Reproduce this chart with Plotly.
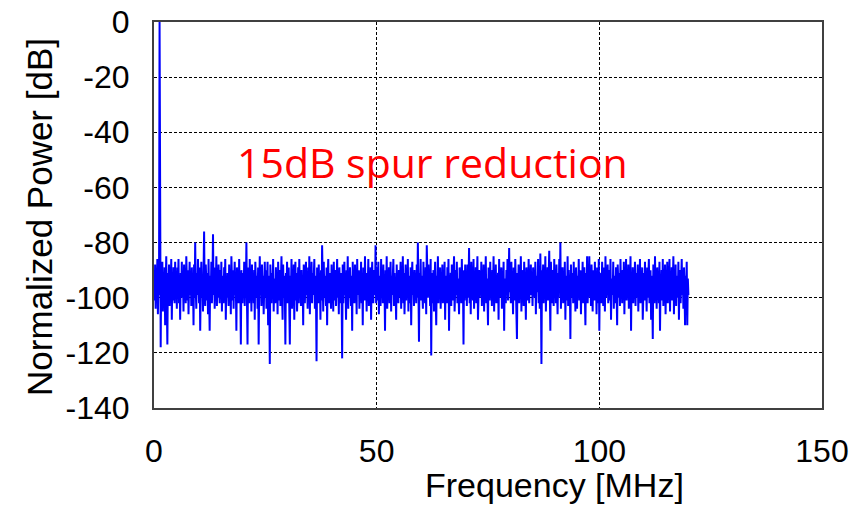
import plotly.graph_objects as go

# Spectrum samples (dB), one row per 5 MHz, 0.125 MHz apart
power_db_rows = [
    [-94,-101,-88,-104,-92,-97,-86,-106,-93,-99, 0,-102,-118,-90,-98,-87,-105,-92,-100,-89, -110,-95,-85,-102,-117,-91,-99,-88,-103,-93, -96,-86,-108,-92,-101,-89,-97,-102,-87,-99],
    [-92,-104,-89,-98,-86,-102,-94,-108,-91,-97, -87,-100,-93,-105,-88,-99,-92,-102,-85,-96, -101,-90,-106,-95,-87,-99,-92,-103,-89,-98, -94,-110,-88,-100,-80,-97,-104,-91,-99,-86],
    [-93,-102,-89,-112,-96,-87,-100,-92,-105,-90, -76,-98,-103,-88,-95,-101,-91,-106,-86,-97, -112,-92,-99,-87,-102,-94,-77,-99,-89,-104, -92,-96,-85,-103,-93,-100,-88,-98,-102,-90],
    [-99,-87,-105,-92,-95,-102,-89,-98,-86,-108, -94,-100,-91,-97,-103,-88,-99,-92,-106,-85, -96,-101,-90,-104,-93,-87,-99,-95,-112,-89, -98,-92,-102,-86,-100,-94,-117,-90,-97,-102],
    [-91,-99,-87,-103,-93,-97,-80,-101,-117,-89, -96,-102,-86,-99,-92,-105,-88,-98,-94,-102, -90,-108,-87,-95,-100,-92,-104,-89,-117,-97, -85,-99,-93,-103,-88,-98,-92,-106,-95,-87],
    [-100,-90,-104,-94,-87,-110,-92,-98,-124,-88, -95,-102,-91,-99,-86,-105,-93,-97,-102,-89, -99,-92,-106,-87,-96,-101,-90,-103,-94,-85, -98,-108,-88,-100,-92,-97,-117,-91,-102,-87],
    [-95,-102,-89,-99,-117,-92,-97,-86,-104,-93, -99,-88,-108,-94,-87,-101,-91,-105,-96,-89, -102,-86,-98,-92,-103,-90,-100,-94,-110,-88, -97,-102,-92,-87,-99,-95,-104,-89,-101,-85],
    [-106,-92,-97,-87,-102,-91,-99,-94,-86,-104, -92,-99,-123,-89,-96,-102,-88,-98,-93,-108, -90,-101,-81,-95,-105,-87,-100,-92,-97,-103, -89,-110,-93,-86,-99,-102,-91,-96,-104,-88],
    [-98,-92,-105,-87,-101,-94,-90,-103,-97,-86, -100,-92,-106,-89,-96,-102,-91,-99,-122,-88, -102,-93,-87,-99,-95,-108,-90,-98,-85,-104, -92,-100,-89,-97,-103,-92,-112,-87,-99,-94],
    [-102,-88,-96,-92,-106,-86,-99,-95,-90,-104, -93,-98,-87,-102,-92,-110,-89,-97,-101,-85, -99,-94,-105,-91,-96,-86,-103,-92,-100,-89, -108,-93,-87,-98,-102,-90,-95,-99,-81,-102],
    [-89,-101,-94,-87,-106,-92,-97,-103,-86,-99, -92,-102,-88,-100,-95,-112,-90,-98,-85,-104, -93,-99,-89,-102,-96,-87,-105,-92,-99,-94, -86,-103,-91,-101,-97,-108,-88,-98,-93,-102],
    [-90,-100,-95,-87,-104,-92,-98,-85,-102,-91, -106,-96,-88,-101,-93,-99,-86,-105,-92,-97, -102,-89,-110,-94,-87,-99,-92,-103,-90,-98, -95,-102,-88,-100,-80,-96,-116,-91,-99,-86],
    [-101,-92,-97,-104,-87,-99,-93,-102,-89,-106, -81,-95,-100,-88,-98,-92,-103,-86,-121,-91, -96,-102,-90,-105,-94,-87,-99,-110,-92,-97, -85,-102,-92,-98,-89,-104,-95,-100,-88,-102],
    [-93,-99,-87,-108,-92,-96,-102,-89,-100,-86, -112,-94,-98,-91,-103,-88,-97,-101,-92,-85, -105,-95,-90,-99,-87,-102,-93,-98,-106,-89, -96,-92,-102,-86,-99,-94,-117,-90,-101,-88],
    [-98,-92,-103,-88,-100,-95,-82,-102,-91,-106, -87,-97,-93,-101,-86,-104,-92,-99,-89,-102, -94,-85,-108,-96,-90,-100,-92,-98,-87,-103, -95,-99,-88,-105,-92,-97,-85,-102,-93,-99],
    [-110,-89,-96,-101,-87,-99,-93,-103,-90,-97, -85,-105,-92,-99,-88,-102,-95,-98,-91,-108, -86,-100,-94,-96,-89,-104,-92,-99,-87,-112, -93,-97,-102,-90,-99,-86,-101,-95,-82,-98],
    [-92,-102,-87,-99,-94,-106,-89,-97,-101,-86, -95,-104,-115,-91,-98,-88,-102,-92,-99,-85, -105,-93,-96,-90,-103,-87,-100,-94,-108,-89, -97,-92,-101,-86,-102,-95,-98,-88,-99,-92],
    [-103,-89,-97,-93,-100,-87,-106,-92,-98,-95, -86,-102,-91,-104,-84,-96,-124,-90,-99,-88, -102,-92,-97,-85,-105,-94,-99,-89,-101,-92, -83,-98,-112,-87,-95,-102,-90,-97,-103,-86],
    [-99,-93,-102,-88,-96,-106,-91,-100,-86,-98, -80,-104,-92,-97,-89,-102,-94,-99,-87,-108, -92,-95,-101,-85,-103,-90,-98,-93,-115,-88, -100,-96,-91,-102,-87,-99,-94,-105,-89,-97],
    [-104,-92,-98,-86,-101,-95,-90,-106,-93,-97, -87,-102,-99,-89,-96,-110,-91,-99,-85,-102, -94,-100,-85,-98,-92,-103,-88,-97,-105,-90, -95,-101,-87,-99,-93,-106,-89,-96,-102,-86],
    [-112,-91,-97,-94,-102,-87,-99,-103,-89,-95, -105,-85,-100,-92,-98,-88,-102,-96,-90,-101, -86,-108,-93,-97,-99,-87,-104,-92,-95,-102, -89,-98,-110,-88,-94,-100,-91,-103,-86,-99],
    [-96,-102,-90,-100,-87,-106,-93,-97,-86,-101, -95,-99,-88,-104,-92,-98,-85,-112,-92,-99, -89,-102,-94,-97,-87,-103,-91,-100,-95,-88, -105,-93,-98,-86,-102,-92,-99,-89,-108,-96],
    [-91,-101,-87,-98,-95,-105,-89,-100,-93,-86, -102,-97,-90,-108,-92,-99,-115,-88,-96,-102, -85,-99,-94,-104,-89,-98,-92,-102,-87,-112, -95,-97,-90,-101,-86,-103,-93,-99,-88,-106],
    [-94,-99,-87,-102,-92,-97,-86,-105,-93,-99, -89,-101,-95,-85,-106,-91,-98,-88,-103,-92, -96,-100,-87,-108,-94,-90,-102,-97,-86,-99, -92,-104,-89,-98,-110,-92,-95,-87,-110,-93],
    [-99],
]
freq_step_mhz = 0.125

x_tick_values = [0, 50, 100, 150]
x_tick_labels = ["0", "50", "100", "150"]
y_tick_values = [0, -20, -40, -60, -80, -100, -120, -140]
y_tick_labels = ["0", "-20", "-40", "-60", "-80", "-100", "-120", "-140"]
annotation_text = "15dB spur reduction"
x_title = "Frequency [MHz]"
y_title = "Normalized Power [dB]"

power_db = [v for row in power_db_rows for v in row]
frequency_mhz = [i * freq_step_mhz for i in range(len(power_db))]

fig = go.Figure()
fig.add_trace(go.Scatter(
    x=frequency_mhz, y=power_db, mode="lines",
    line=dict(color="#0000FF", width=2),
    showlegend=False, hoverinfo="skip",
))

font_family = "Liberation Sans, Arial, sans-serif"
axis_font = dict(family=font_family, size=32, color="#000000")

fig.update_xaxes(
    range=[0, 150], tickvals=x_tick_values, ticktext=x_tick_labels, tickfont=axis_font,
    showgrid=True, gridcolor="#000000", gridwidth=1, griddash="3px,2px",
    showline=True, linecolor="#404040", linewidth=2, mirror=True,
    zeroline=False, ticks="", ticklabelstandoff=14, automargin=False,
    ticklabeloverflow="allow",
)
fig.update_yaxes(
    range=[-140, 0], tickvals=y_tick_values, ticktext=y_tick_labels, tickfont=axis_font,
    showgrid=True, gridcolor="#000000", gridwidth=1, griddash="3px,2px",
    showline=True, linecolor="#404040", linewidth=2, mirror=True,
    zeroline=False, ticks="", ticklabelstandoff=16, automargin=False,
    ticklabeloverflow="allow",
)

fig.add_annotation(
    x=18.2, y=-50.8, xref="x", yref="y", text=annotation_text, showarrow=False,
    xanchor="left", yanchor="middle",
    font=dict(family="Open Sans, Noto Sans, sans-serif", size=41, color="#FF0000"),
)
fig.add_annotation(
    x=90, y=-0.2, xref="x", yref="paper", text=x_title, showarrow=False,
    xanchor="center", yanchor="middle",
    font=dict(family=font_family, size=34, color="#000000"),
)
fig.add_annotation(
    x=-0.1707, y=0.495, xref="paper", yref="paper", text=y_title, showarrow=False,
    xanchor="center", yanchor="middle", textangle=-90,
    font=dict(family=font_family, size=35, color="#000000"),
)

fig.update_layout(
    width=856, height=514,
    margin=dict(l=154, r=34, t=22, b=106),
    paper_bgcolor="#FFFFFF", plot_bgcolor="#FFFFFF",
)

# remove the page's default body margin so the figure fills the window exactly
fig.write_html(
    "out.html",
    config={"displayModeBar": False, "staticPlot": True},
    post_script="document.body.style.margin='0';",
)
